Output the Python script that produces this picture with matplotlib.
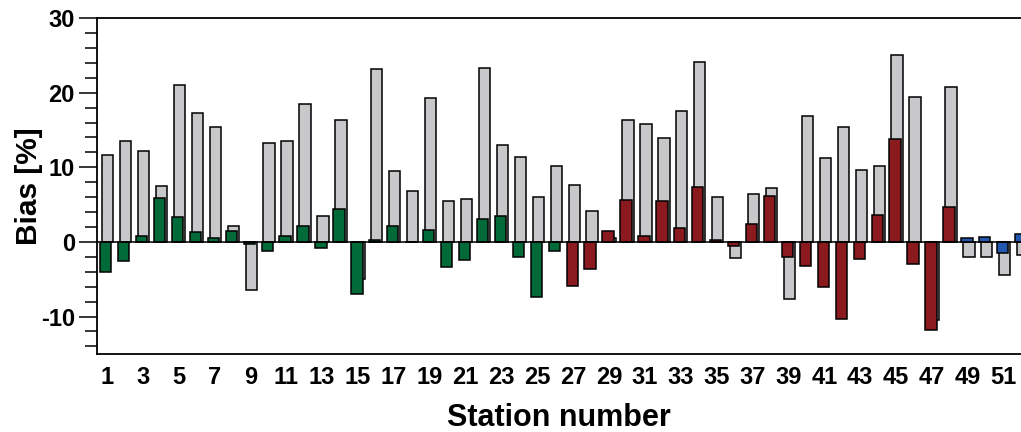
import numpy as np
import matplotlib
matplotlib.use("Agg")
from matplotlib import pyplot as plt
from matplotlib.ticker import MultipleLocator

# Bias per station (%)
stations = np.arange(1, 53)
bias_all = [11.7, 13.55, 12.2, 7.5, 21.06, 17.26, 15.35, 2.2, -6.4, 13.2,
            13.47, 18.47, 3.45, 16.4, -4.95, 23.2, 9.57, 6.8, 19.28, 5.55,
            5.82, 23.25, 12.93, 11.41, 6.0, 10.2, 7.66, 4.08, 0.5, 16.33,
            15.75, 13.92, 17.58, 24.06, 6.05, -2.18, 6.36, 7.21, -7.67, 16.91,
            11.23, 15.35, 9.58, 10.12, 25.05, 19.41, -10.45, 20.75, -2.04, -2.0,
            -4.41, -1.73]
bias_corr = [-4.0, -2.5, 0.73, 5.9, 3.37, 1.27, 0.47, 1.45, -0.25, -1.28,
             0.77, 2.2, -0.75, 4.48, -6.96, 0.24, 2.2, 0.05, 1.62, -3.38,
             -2.44, 3.1, 3.41, -2.0, -7.36, -1.24, -5.89, -3.61, 1.4, 5.6,
             0.73, 5.51, 1.93, 7.3, 0.22, -0.48, 2.43, 6.09, -2.04, -3.2,
             -6.02, -10.4, -2.35, 3.55, 13.78, -2.94, -11.83, 4.66, 0.5, 0.6,
             -1.5, 1.04]
# number of stations in each region
region_sizes = [26, 22, 4]
region_colors = ['#006a38', '#8a1a1e', '#2358b0']

plt.rcParams['font.family'] = ['Liberation Sans', 'DejaVu Sans']
plt.rcParams['font.weight'] = 'bold'
plt.rcParams['axes.unicode_minus'] = False

fig = plt.figure(figsize=(10.21, 4.32), dpi=100)
ax = fig.add_axes([0.095, 0.181, 0.905, 0.777])

colors = np.repeat(region_colors, region_sizes)

w = 0.63
off = 0.055
ax.bar(stations + off, bias_all, width=w, color='#c8c8ca', edgecolor='black', linewidth=1.1, zorder=2)
ax.bar(stations - off, bias_corr, width=w, color=colors, edgecolor='black', linewidth=1.1, zorder=3)
ax.axhline(0, color='black', linewidth=1.1, zorder=4)

ax.set_xlim(0.46, 51.96)
ax.set_ylim(-15, 30)
ax.set_xticks(stations[::2])
ax.yaxis.set_major_locator(MultipleLocator(10))
ax.yaxis.set_minor_locator(MultipleLocator(2))
ax.tick_params(axis='x', length=0, labelsize=17, pad=9)
ax.tick_params(axis='y', which='major', length=13, width=1.1, labelsize=17, pad=3)
ax.tick_params(axis='y', which='minor', length=8.5, width=1.1)

ax.spines['right'].set_visible(False)
for s in ['left', 'top', 'bottom']:
    ax.spines[s].set_linewidth(1.3)

ax.set_xlabel('Station number', fontsize=22, fontweight='bold', labelpad=10)
ax.set_ylabel('Bias [%]', fontsize=21.5, fontweight='bold')
ax.yaxis.set_label_coords(-0.058, 0.5)

fig.savefig('out.png', dpi=100)
